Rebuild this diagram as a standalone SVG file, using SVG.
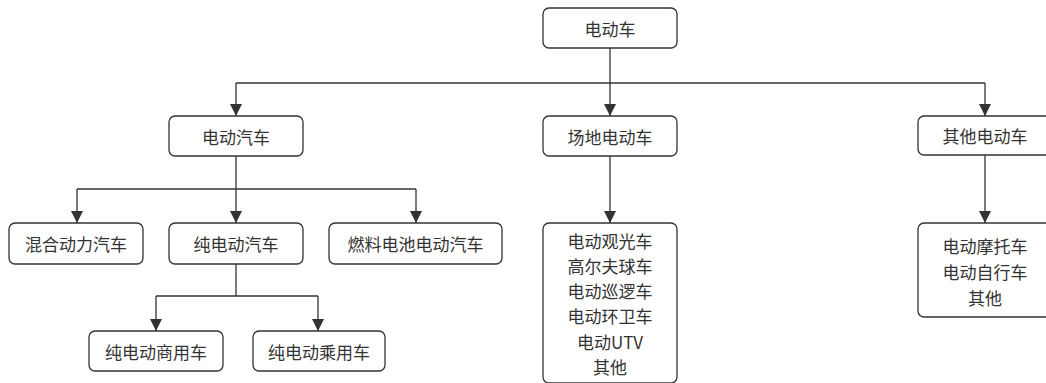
<svg xmlns="http://www.w3.org/2000/svg" width="1046" height="383" viewBox="0 0 1046 383">
<style>
.n rect{fill:#fff;stroke:#333;stroke-width:1.3}
.n text{font-family:"Noto Sans CJK SC","Noto Sans",sans-serif;font-size:17px;fill:#333;text-anchor:middle;dominant-baseline:central}
.c path{fill:none;stroke:#333;stroke-width:1.3}
.h path{fill:#333}
</style>
<rect width="1046" height="383" fill="#fff"/>
<g id="connectors" class="c">
<path d="M610,48 V116"/>
<path d="M236,83 H985"/>
<path d="M236,83 V116"/>
<path d="M985,83 V116"/>
<path d="M236,156 V223"/>
<path d="M77,189 H416"/>
<path d="M77,189 V223"/>
<path d="M416,189 V223"/>
<path d="M236,264 V296"/>
<path d="M156,296 H318"/>
<path d="M156,296 V331"/>
<path d="M318,296 V331"/>
<path d="M610,156 V223"/>
<path d="M985,155 V223"/>
</g>
<g id="arrowheads" class="h">
<path d="M604,104 L616,104 L610,116 Z"/>
<path d="M230,104 L242,104 L236,116 Z"/>
<path d="M979,104 L991,104 L985,116 Z"/>
<path d="M71,211 L83,211 L77,223 Z"/>
<path d="M230,211 L242,211 L236,223 Z"/>
<path d="M410,211 L422,211 L416,223 Z"/>
<path d="M150,319 L162,319 L156,331 Z"/>
<path d="M312,319 L324,319 L318,331 Z"/>
<path d="M604,211 L616,211 L610,223 Z"/>
<path d="M979,211 L991,211 L985,223 Z"/>
</g>
<g id="root" class="n"><rect x="543" y="8" width="134" height="40" rx="6"/><text x="610" y="28">电动车</text></g>
<g id="ev" class="n"><rect x="169" y="116" width="134" height="40" rx="6"/><text x="236" y="136">电动汽车</text></g>
<g id="site" class="n"><rect x="543" y="116" width="134" height="40" rx="6"/><text x="610" y="136">场地电动车</text></g>
<g id="other" class="n"><rect x="918" y="116" width="134" height="39" rx="6"/><text x="985" y="135.5">其他电动车</text></g>
<g id="hybrid" class="n"><rect x="9" y="223" width="134" height="41" rx="6"/><text x="76" y="243.5">混合动力汽车</text></g>
<g id="bev" class="n"><rect x="169" y="223" width="134" height="41" rx="6"/><text x="236" y="243.5">纯电动汽车</text></g>
<g id="fcev" class="n"><rect x="329" y="223" width="173" height="41" rx="6"/><text x="415.5" y="243.5">燃料电池电动汽车</text></g>
<g id="commercial" class="n"><rect x="89" y="331" width="134" height="40" rx="6"/><text x="156" y="351">纯电动商用车</text></g>
<g id="passenger" class="n"><rect x="253" y="331" width="132" height="40" rx="6"/><text x="319" y="351">纯电动乘用车</text></g>
<g id="sitelist" class="n"><rect x="543" y="223" width="134" height="160" rx="6"/>
<text x="610" y="240">电动观光车</text>
<text x="610" y="265">高尔夫球车</text>
<text x="610" y="290">电动巡逻车</text>
<text x="610" y="315.5">电动环卫车</text>
<text x="610" y="341">电动UTV</text>
<text x="610" y="366">其他</text>
</g>
<g id="otherlist" class="n"><rect x="918" y="223" width="134" height="94" rx="6"/>
<text x="985" y="245">电动摩托车</text>
<text x="985" y="271">电动自行车</text>
<text x="985" y="297">其他</text>
</g>
</svg>
